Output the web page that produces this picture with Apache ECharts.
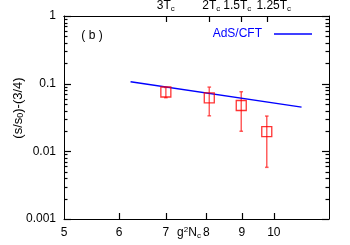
<!DOCTYPE html>
<html><head><meta charset="utf-8">
<script src="https://cdn.jsdelivr.net/npm/echarts@6/dist/echarts.min.js"></script>
<style>html,body{margin:0;padding:0;background:#fff}#c{width:350px;height:245px}</style>
</head><body><div id="c"></div>
<script>
// data
const gN = [7.0, 8.08, 8.98, 9.77];
const sVal = [0.0753, 0.0617, 0.0476, 0.0196];
const errLow = [0.062, 0.0335, 0.0198, 0.0058];
const errHigh = [0.088, 0.089, 0.076, 0.0332];
const adsX = [6.23, 10.96];
const adsY = [0.107, 0.045];
const xTicks = [5, 6, 7, 8, 9, 10];
const yTicks = [0.001, 0.01, 0.1, 1];
const yMinor = [];
[0.001, 0.01, 0.1].forEach(d => { for (let k = 2; k <= 9; k++) yMinor.push(+(d * k).toPrecision(3)); });
const topTickVals = [7.0, 8.08, 8.98, 9.77];
const topTickLabels = ['3', '2', '1.5', '1.25'];

const FONT = 'Liberation Sans, Arial, sans-serif';
const chart = echarts.init(document.getElementById('c'), null, {renderer: 'canvas'});
const axLine = {show: true, lineStyle: {color: '#000', width: 1}};
function yAx(pos, labels) {
  return {
    type: 'log', min: 0.001, max: 1, position: pos, logBase: 10,
    axisLine: axLine, splitLine: {show: false}, minorTick: {show: false}, axisTick: {show: false},
    axisLabel: labels ? {show: true, customValues: yTicks, margin: 8, color: '#000', fontFamily: FONT, fontSize: 12,
      formatter: v => { const i = yTicks.findIndex(t => Math.abs(Math.log10(t) - Math.log10(v)) < 1e-6); return i >= 0 ? String(yTicks[i]) : ''; }} : {show: false}
  };
}
const topPad = [[0, 0, 0, 0], [0, 0, 0, 4], [0, 8, 0, 0], [0, 0, 0, 14]];
function topAx(idxs) {
  const vals = idxs.map(i => topTickVals[i]);
  const rich = {s: {fontSize: 8, fontFamily: FONT, color: '#000', padding: [6, 0, 0, 0]}};
  topPad.forEach((p, i) => { rich['n' + i] = {fontSize: 12, fontFamily: FONT, color: '#000', padding: p}; });
  return {type: 'log', min: 5, max: 12, position: 'top', axisLine: axLine, splitLine: {show: false}, axisTick: {show: false},
     axisLabel: {show: true, customValues: vals, margin: 3, color: '#000', fontFamily: FONT, fontSize: 12,
       formatter: v => { let best = 0; topTickVals.forEach((t, i) => { if (Math.abs(t - v) < Math.abs(topTickVals[best] - v)) best = i; });
         return best === 2 ? '{n0|' + topTickLabels[best] + 'T}{s|c}{n2|}' : '{n' + best + '|' + topTickLabels[best] + 'T}{s|c}'; },
       rich: rich}};
}
// tick marks: [x, y, kind] kind 0 = y major, 1 = y minor, 2 = bottom x, 3 = top x
const tickData = [].concat(
  yTicks.map(v => [5, v, 0]),
  yMinor.map(v => [5, v, 1]),
  xTicks.slice(1).map(v => [v, 0.001, 2]),
  topTickVals.map(v => [v, 1, 3])
);
const option = {
  animation: false,
  backgroundColor: '#fff',
  grid: {left: 64, right: 21, top: 14, bottom: 26},
  xAxis: [
    {type: 'log', min: 5, max: 12, position: 'bottom', axisLine: axLine, splitLine: {show: false}, axisTick: {show: false},
     axisLabel: {show: true, customValues: xTicks, margin: 8, color: '#000', fontFamily: FONT, fontSize: 12,
       formatter: v => String(Math.round(v))}},
    topAx([0, 2]), topAx([1, 3])
  ],
  yAxis: [yAx('left', true), yAx('right', false)],
  legend: {
    right: 38, top: 28, padding: 0, itemWidth: 38, itemHeight: 14, align: 'right', selectedMode: false,
    data: [{name: 'AdS/CFT', icon: 'path://M0,0L38,0L38,1.4L0,1.4Z'}],
    textStyle: {color: '#0000ff', fontFamily: FONT, fontSize: 12, padding: [0, 7, 0, 0]},
    itemStyle: {color: '#0000ff'}
  },
  series: [
    {name: 'ticks', type: 'custom', xAxisIndex: 0, yAxisIndex: 0, silent: true, clip: false,
     data: tickData, encode: {x: 0, y: 1},
     renderItem: (params, api) => {
       const cs = params.coordSys;
       const kind = api.value(2);
       const p = api.coord([api.value(0), api.value(1)]);
       const st = {stroke: '#000', lineWidth: 1.2};
       if (kind <= 1) {
         const len = kind === 0 ? 7 : 3.5;
         const y = Math.round(p[1]) + 0.5;
         return {type: 'group', children: [
           {type: 'line', shape: {x1: cs.x, y1: y, x2: cs.x + len, y2: y}, style: st},
           {type: 'line', shape: {x1: cs.x + cs.width - len, y1: y, x2: cs.x + cs.width, y2: y}, style: st}
         ]};
       }
       const x = Math.round(p[0]) + 0.5;
       const y0 = kind === 2 ? cs.y + cs.height : cs.y;
       const y1 = kind === 2 ? y0 - 6 : y0 + 6;
       return {type: 'line', shape: {x1: x, y1: y0, x2: x, y2: y1}, style: st};
     }, z: 5},
    {name: 'AdS/CFT', type: 'line', xAxisIndex: 0, yAxisIndex: 0, symbol: 'none',
     lineStyle: {color: '#0000ff', width: 1.5}, itemStyle: {color: '#0000ff'},
     data: adsX.map((x, i) => [x, adsY[i]]), z: 3},
    {name: 'err', type: 'custom', xAxisIndex: 0, yAxisIndex: 0,
     data: gN.map((x, i) => [x, errLow[i], errHigh[i]]),
     encode: {x: 0, y: [1, 2]},
     renderItem: (params, api) => {
       const x = api.value(0);
       const a = api.coord([x, api.value(1)]), b = api.coord([x, api.value(2)]);
       const st = {stroke: 'rgba(255,40,40,0.75)', lineWidth: 1.5};
       const c = 1.8;
       return {type: 'group', children: [
         {type: 'line', shape: {x1: a[0], y1: a[1], x2: b[0], y2: b[1]}, style: st},
         {type: 'line', shape: {x1: a[0] - c, y1: a[1], x2: a[0] + c, y2: a[1]}, style: st},
         {type: 'line', shape: {x1: b[0] - c, y1: b[1], x2: b[0] + c, y2: b[1]}, style: st}
       ]};
     }, z: 2},
    {name: 'lat', type: 'scatter', xAxisIndex: 0, yAxisIndex: 0, symbol: 'rect', symbolSize: 10,
     itemStyle: {color: 'rgba(255,255,255,0)', borderColor: '#ff0000', borderWidth: 1.3},
     data: gN.map((x, i) => [x, sVal[i]]), z: 4}
  ],
  graphic: [
    {type: 'text', x: 92, y: 36, style: {text: '( b )', fontFamily: FONT, fontSize: 12, fill: '#000', align: 'center', verticalAlign: 'middle'}},
    {type: 'text', x: 18, y: 108, rotation: Math.PI / 2,
     style: {text: '(s/s{s|0})-(3/4)', fontFamily: FONT, fontSize: 13, fill: '#000', align: 'center', verticalAlign: 'middle',
       rich: {s: {fontSize: 9, fontFamily: FONT, fill: '#000', padding: [6, 0, 0, 0]}}}},
    {type: 'text', x: 189, y: 233,
     style: {text: 'g{p|2}N{s|c}', fontFamily: FONT, fontSize: 12, fill: '#000', align: 'center', verticalAlign: 'middle',
       rich: {p: {fontSize: 8, fontFamily: FONT, fill: '#000', padding: [0, 0, 6, 0]}, s: {fontSize: 8, fontFamily: FONT, fill: '#000', padding: [6, 0, 0, 0]}}}}
  ]
};
chart.setOption(option);
</script></body></html>
